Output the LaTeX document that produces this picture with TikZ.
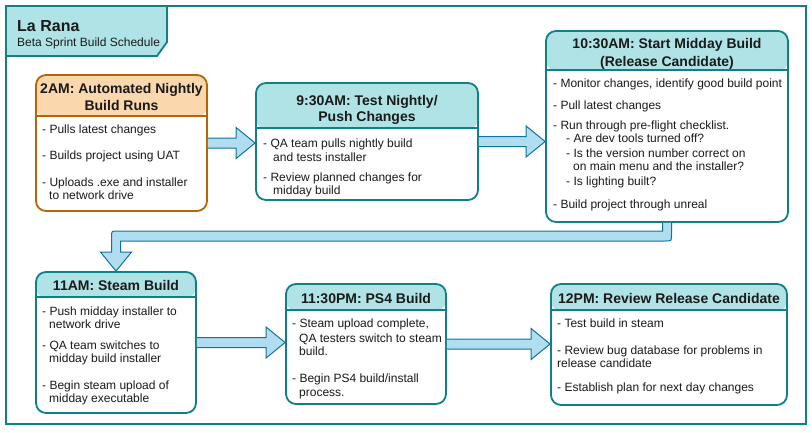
\documentclass[tikz,border=0pt]{standalone}
\usepackage{fontspec}
\setmainfont{Liberation Sans}
\usetikzlibrary{calc}
\definecolor{tealfill}{HTML}{B0E3E6}
\definecolor{tealstroke}{HTML}{0E8088}
\definecolor{orangefill}{HTML}{FAD7AC}
\definecolor{orangestroke}{HTML}{B46504}
\definecolor{arrowfill}{HTML}{B1DDF0}
\definecolor{arrowstroke}{HTML}{10739E}
\definecolor{txt}{HTML}{1A1A1A}
\newcount\tcnt
\newcommand\tline[3]{\global\advance\tcnt by 1\relax\node[bodytxt] (t\the\tcnt) at (#1,#2+4.5) {#3};}
\newcommand\tttl[3]{\global\advance\tcnt by 1\relax\node[ttltxt] (t\the\tcnt) at (#1,#2+5) {#3};}
\newcommand\hbarrow[2]{\filldraw[arrs] let \p1=(#1), \p2=(#2) in
  (\x1,\y1-5pt) -- (\x2-19pt,\y1-5pt) -- (\x2-19pt,\y1-15.5pt) -- (\x2,\y1)
  -- (\x2-19pt,\y1+15.5pt) -- (\x2-19pt,\y1+5pt) -- (\x1,\y1+5pt);}
\tikzset{
  bodytxt/.style={anchor=base west, inner sep=0pt, text=txt, font=\fontsize{12}{14}\selectfont},
  ttltxt/.style={anchor=base, inner sep=0pt, text=txt, font=\fontsize{14}{16}\selectfont\bfseries},
  boxs/.style 2 args={rectangle, fill=white, line width=1.8pt, rounded corners=10pt,
    minimum width=#1, minimum height=#2, inner sep=0pt},
  hdr/.style 2 args={path picture={\fill[#2] (path picture bounding box.north west)
    rectangle ([yshift=-#1]path picture bounding box.north east);}},
  divl/.style={line width=1.8pt},
  arrs/.style={fill=arrowfill, draw=arrowstroke, line width=1pt, line join=miter},
  frm/.style={draw=tealstroke, line width=1.8pt},
}
\begin{document}
\begin{tikzpicture}[x=1pt,y=-1pt]
\useasboundingbox (0,0) rectangle (812,432);
% outer frame and title tab
\draw[frm] (6,6) rectangle (806,424);
\filldraw[frm, fill=tealfill, line join=miter] (6,6) -- (167,6) -- (167,42) -- (157,56) -- (6,56) -- cycle;
\node[anchor=base west, inner sep=0pt, text=txt, font=\fontsize{16}{18}\selectfont\bfseries] (title) at (17,31) {La Rana};
\node[bodytxt] (subtitle) at (17,46.5) {Beta Sprint Build Schedule};

% boxes
\node[boxs={171pt}{136pt}, hdr={42pt}{orangefill}, draw=orangestroke] (b1) at (121.5,143) {};
\draw[divl, orangestroke] ([yshift=-42pt]b1.north west) -- ([yshift=-42pt]b1.north east);
\node[boxs={222pt}{117pt}, hdr={46pt}{tealfill}, draw=tealstroke] (b2) at (367,141.5) {};
\draw[divl, tealstroke] ([yshift=-46pt]b2.north west) -- ([yshift=-46pt]b2.north east);
\node[boxs={242pt}{191pt}, hdr={40pt}{tealfill}, draw=tealstroke] (b3) at (667,126.5) {};
\draw[divl, tealstroke] ([yshift=-40pt]b3.north west) -- ([yshift=-40pt]b3.north east);
\node[boxs={160pt}{141pt}, hdr={26pt}{tealfill}, draw=tealstroke] (b4) at (116,342.5) {};
\draw[divl, tealstroke] ([yshift=-26pt]b4.north west) -- ([yshift=-26pt]b4.north east);
\node[boxs={160pt}{120pt}, hdr={27pt}{tealfill}, draw=tealstroke] (b5) at (366,344) {};
\draw[divl, tealstroke] ([yshift=-27pt]b5.north west) -- ([yshift=-27pt]b5.north east);
\node[boxs={236pt}{121pt}, hdr={27pt}{tealfill}, draw=tealstroke] (b6) at (669,344.5) {};
\draw[divl, tealstroke] ([yshift=-27pt]b6.north west) -- ([yshift=-27pt]b6.north east);

% arrows
\hbarrow{b1.east}{b2.west}
\hbarrow{b2.east}{b3.west}
\hbarrow{b4.east}{b5.west}
\hbarrow{b5.east}{b6.west}
\filldraw[arrs] let \p1=(b3.south), \p2=(b4.north) in
  (\x1+4.5pt,\y1) -- (\x1+4.5pt,-235pt) .. controls (\x1+4.5pt,-241pt) .. (\x1-1.5pt,-241pt)
  -- (\x2+4.5pt,-241pt) -- (\x2+4.5pt,\y2+19pt) -- (\x2+15.5pt,\y2+19pt) -- (\x2,\y2)
  -- (\x2-15.5pt,\y2+19pt) -- (\x2-4.5pt,\y2+19pt) -- (\x2-4.5pt,-237pt)
  .. controls (\x2-4.5pt,-231pt) .. (\x2+1.5pt,-231pt) -- (\x1-4.5pt,-231pt) -- (\x1-4.5pt,\y1);

% titles
\tttl{121.5}{88}{2AM: Automated Nightly}
\tttl{121.5}{105}{Build Runs}
\tttl{367}{100}{9:30AM: Test Nightly/}
\tttl{367}{116}{Push Changes}
\tttl{667}{43}{10:30AM: Start Midday Build}
\tttl{667}{61}{(Release Candidate)}
\tttl{116}{285}{11AM: Steam Build}
\tttl{366}{298}{11:30PM: PS4 Build}
\tttl{669}{298}{12PM: Review Release Candidate}

% box 1
\tline{42}{129}{- Pulls latest changes}
\tline{42}{155}{- Builds project using UAT}
\tline{42}{182}{- Uploads .exe and installer}
\tline{49}{195}{to network drive}
% box 2
\tline{263}{143}{- QA team pulls nightly build}
\tline{273}{157}{and tests installer}
\tline{263}{177}{- Review planned changes for}
\tline{273}{190}{midday build}
% box 3
\tline{553}{83}{- Monitor changes, identify good build point}
\tline{553}{105}{- Pull latest changes}
\tline{553}{125}{- Run through pre-flight checklist.}
\tline{566}{138}{- Are dev tools turned off?}
\tline{566}{153}{- Is the version number correct on}
\tline{573}{166}{on main menu and the installer?}
\tline{566}{181}{- Is lighting built?}
\tline{553}{204}{- Build project through unreal}
% box 4
\tline{42}{311}{- Push midday installer to}
\tline{49}{324}{network drive}
\tline{42}{345}{- QA team switches to}
\tline{49}{358}{midday build installer}
\tline{42}{385}{- Begin steam upload of}
\tline{49}{398}{midday executable}
% box 5
\tline{292}{323}{- Steam upload complete,}
\tline{299}{338}{QA testers switch to steam}
\tline{299}{351}{build.}
\tline{292}{378}{- Begin PS4 build/install}
\tline{299}{392}{process.}
% box 6
\tline{557}{323}{- Test build in steam}
\tline{557}{350}{- Review bug database for problems in}
\tline{557}{363}{release candidate}
\tline{557}{387}{- Establish plan for next day changes}
\end{tikzpicture}
\end{document}
